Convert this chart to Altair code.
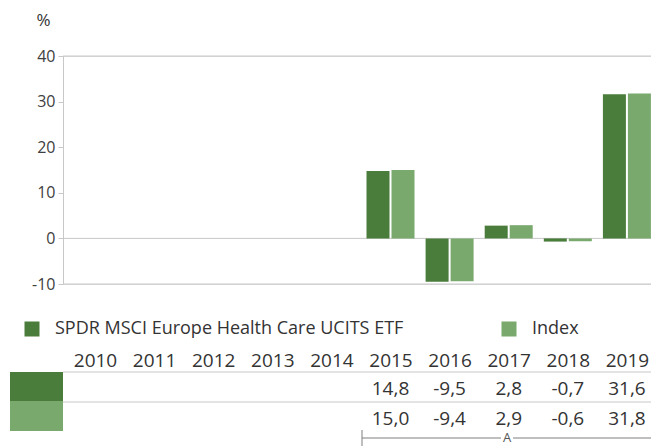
import altair as alt
import pandas as pd

years = [2010, 2011, 2012, 2013, 2014, 2015, 2016, 2017, 2018, 2019]
fund_values = [None, None, None, None, None, 14.8, -9.5, 2.8, -0.7, 31.6]
index_values = [None, None, None, None, None, 15.0, -9.4, 2.9, -0.6, 31.8]
series_names = ["SPDR MSCI Europe Health Care UCITS ETF", "Index"]
series_colors = ["#4a7c3c", "#79a96c"]
bracket_label = "A"

rows = []
for y, f, i in zip(years, fund_values, index_values):
    if f is not None:
        rows.append({"year": y, "series": series_names[0], "value": f})
    if i is not None:
        rows.append({"year": y, "series": series_names[1], "value": i})
df = pd.DataFrame(rows)

FONT = "Open Sans"
TXT = "#333333"
GRID = "#c8c8c8"
W, H = 588, 228

# year axis: ~59 px per year, first year centred 32 px right of the y axis
xscale = alt.Scale(domain=[2009.4585, 2019.4077], nice=False, zero=False, padding=0)
xenc = alt.X("year:Q", scale=xscale,
             axis=alt.Axis(title=None, domain=False, ticks=False, tickSize=0, grid=False,
                           values=years, format="d", labelFlush=False, labelOverlap=False,
                           labelPadding=76, labelBaseline="middle", labelAngle=0,
                           labelFontSize=19, labelColor=TXT, labelFont=FONT))
yscale = alt.Scale(domain=[-10, 40], nice=False, zero=False)
yaxis = alt.Axis(values=[-10, 0, 10, 20, 30, 40], grid=False,
                 domainColor=GRID, tickColor=GRID, tickSize=5, labelPadding=3,
                 labelFontSize=16, labelColor="#404040", labelFont=FONT,
                 labelExpr="replace(datum.label, '\u2212', '-')",
                 title="%", titleAngle=0, titleX=-20, titleY=-36,
                 titleAlign="center", titleBaseline="middle",
                 titleFontWeight="normal", titleFontSize=17, titleColor=TXT,
                 titleFont=FONT)
color = alt.Color("series:N", sort=series_names,
                  scale=alt.Scale(domain=series_names, range=series_colors),
                  legend=alt.Legend(title=None, orient="none", legendX=-40, legendY=264,
                                    direction="horizontal", symbolType="square",
                                    symbolSize=225, symbolStrokeWidth=0,
                                    labelFontSize=18, labelFont=FONT, labelColor=TXT,
                                    labelOffset=14, columnPadding=96, padding=0,
                                    labelLimit=500))

base = alt.Chart(df)

bars_f = base.transform_filter(alt.datum.series == series_names[0]).mark_bar(
    width=23, xOffset=-12.5).encode(
    x=xenc, y=alt.Y("value:Q", scale=yscale, axis=yaxis), y2=alt.datum(0), color=color)
bars_i = base.transform_filter(alt.datum.series == series_names[1]).mark_bar(
    width=23, xOffset=12.5).encode(
    x=xenc, y=alt.Y("value:Q", scale=yscale, axis=yaxis), y2=alt.datum(0), color=color)

grid_vals = pd.DataFrame({"v": [-10, 0, 40]})
gridlines = alt.Chart(grid_vals).mark_rule(color=GRID, strokeWidth=1).encode(
    y=alt.Y("v:Q", scale=yscale), x=alt.value(0), x2=alt.value(W))

table_lines = alt.Chart(pd.DataFrame({"r": [0]})).mark_rule(color=GRID).encode(
    y=alt.value(316), x=alt.value(0), x2=alt.value(W))
table_line2 = alt.Chart(pd.DataFrame({"r": [0]})).mark_rule(color=GRID).encode(
    y=alt.value(346), x=alt.value(0), x2=alt.value(W))

sw1 = alt.Chart(pd.DataFrame({"s": [series_names[0]]})).mark_rect(color=series_colors[0]).encode(
    x=alt.value(-53), x2=alt.value(0), y=alt.value(316), y2=alt.value(345))
sw2 = alt.Chart(pd.DataFrame({"s": [series_names[1]]})).mark_rect(color=series_colors[1]).encode(
    x=alt.value(-53), x2=alt.value(0), y=alt.value(345), y2=alt.value(375))

fmt = "replace(replace(format(datum.value, '.1f'), '.', ','), '\u2212', '-')"
txt1 = base.transform_filter(alt.datum.series == series_names[0]).transform_calculate(
    lab=fmt).mark_text(fontSize=19, font=FONT, color=TXT, baseline="middle").encode(
    x=alt.X("year:Q", scale=xscale), y=alt.value(333), text="lab:N")
txt2 = base.transform_filter(alt.datum.series == series_names[1]).transform_calculate(
    lab=fmt).mark_text(fontSize=19, font=FONT, color=TXT, baseline="middle").encode(
    x=alt.X("year:Q", scale=xscale), y=alt.value(363), text="lab:N")

BR = "#7f7f7f"
one = pd.DataFrame({"a": [1]})
br_h1 = alt.Chart(one).mark_rule(color=BR).encode(x=alt.value(299), x2=alt.value(438), y=alt.value(382))
br_h2 = alt.Chart(one).mark_rule(color=BR).encode(x=alt.value(450), x2=alt.value(W), y=alt.value(382))
br_v = alt.Chart(one).mark_rule(color=BR).encode(x=alt.value(299), y=alt.value(374), y2=alt.value(390))
br_t = alt.Chart(pd.DataFrame({"t": [bracket_label]})).mark_text(
    fontSize=13, font=FONT, color="#555555", baseline="middle").encode(
    x=alt.value(444), y=alt.value(382), text="t:N")

chart = alt.layer(
    gridlines, bars_f, bars_i, table_lines, table_line2, sw1, sw2, txt1, txt2,
    br_h1, br_h2, br_v, br_t
).properties(
    width=W, height=H,
    autosize=alt.AutoSizeParams(type="none"),
    padding={"left": 55, "top": 48, "right": 0, "bottom": 162},
).configure_view(stroke=None).configure(font=FONT)

chart.save("out.html", embed_options={"renderer": "svg", "actions": False})
